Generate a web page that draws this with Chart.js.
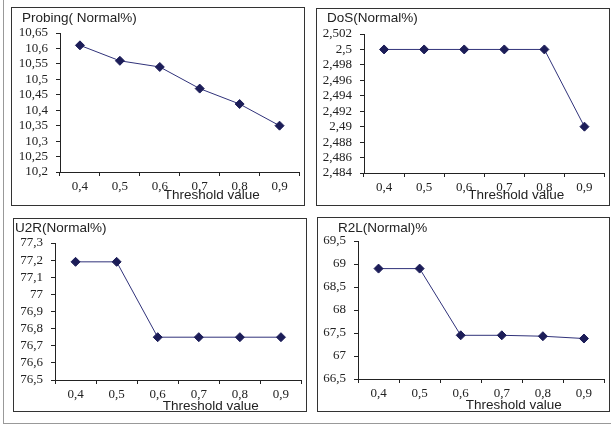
<!DOCTYPE html>
<html>
<head>
<meta charset="utf-8">
<script src="https://cdn.jsdelivr.net/npm/chart.js@4/dist/chart.umd.min.js"></script>
<style>
    body { margin: 0; background: #fff; }
    #page { position: relative; width: 611px; height: 425px; overflow: hidden; }
    .frame { position: absolute; left: 3px; top: -2px; width: 620px; height: 425px;
             border-left: 1px solid #999; border-bottom: 1px solid #999; }
    .box { position: absolute; border: 1px solid #333; box-sizing: border-box; }
    canvas { position: absolute; }
</style>
</head>
<body>
<div id="page">
    <div class="frame"></div>
</div>
<script>
// x categories (threshold values)
const thresholds = ['0,4', '0,5', '0,6', '0,7', '0,8', '0,9'];

// series values
const probingValues = [10.61, 10.56, 10.54, 10.47, 10.42, 10.35];
const dosValues = [2.5, 2.5, 2.5, 2.5, 2.5, 2.49];
const u2rValues = [77.19, 77.19, 76.75, 76.75, 76.75, 76.75];
const r2lValues = [68.9, 68.9, 67.45, 67.45, 67.43, 67.38];

// y tick ranges: [min, max, step]
const probingTicks = [10.2, 10.65, 0.05];
const dosTicks = [2.484, 2.502, 0.002];
const u2rTicks = [76.5, 77.3, 0.1];
const r2lTicks = [66.5, 69.5, 0.5];

const axisTitle = 'Threshold value';

// box = [x, y, w, h] of the panel frame, area = [left, top, right, bottom] of the plot (page coords)
const panels = [
    { title: 'Probing( Normal%)', values: probingValues, ticks: probingTicks,
      box: [11, 7, 294, 199], area: [60, 33, 302, 172], titlePos: [11, 11], axisDy: 23 },
    { title: 'DoS(Normal%)', values: dosValues, ticks: dosTicks,
      box: [316, 8, 294, 198], area: [364, 34, 607, 173], titlePos: [11, 10], axisDy: 22 },
    { title: 'U2R(Normal%)', values: u2rValues, ticks: u2rTicks,
      box: [13, 218, 294, 194], area: [55, 243, 305, 380], titlePos: [2, 10], axisDy: 26 },
    { title: 'R2L(Normal)%', values: r2lValues, ticks: r2lTicks,
      box: [317, 217, 293, 195], area: [358, 241, 607, 379], titlePos: [21, 11], axisDy: 26 }
];

const inkColor = '#222';
const lineColor = '#30327a';
const markerColor = '#1c1d58';

function fmt(v) {
    return parseFloat(Number(v).toFixed(4)).toString().replace('.', ',');
}

// draws the panel title and the offset x-axis title
const panelText = {
    id: 'panelText',
    afterDraw(chart, args, opts) {
        const ctx = chart.ctx;
        const x = chart.scales.x;
        ctx.save();
        ctx.fillStyle = inkColor;
        ctx.font = '13.5px "Liberation Sans", Arial, sans-serif';
        ctx.textBaseline = 'middle';
        ctx.textAlign = 'left';
        ctx.fillText(opts.title, opts.titlePos[0], opts.titlePos[1]);
        ctx.textAlign = 'center';
        ctx.fillText(axisTitle, x.getPixelForValue(3) + 12, chart.chartArea.bottom + opts.axisDy);
        ctx.restore();
    }
};

function makeChart(p) {
    const page = document.getElementById('page');
    const [bx, by, bw, bh] = p.box;
    const [al, at, ar, ab] = p.area;

    const box = document.createElement('div');
    box.className = 'box';
    Object.assign(box.style, { left: bx + 'px', top: by + 'px', width: bw + 'px', height: bh + 'px' });
    page.appendChild(box);

    const canvas = document.createElement('canvas');
    canvas.width = bw;
    canvas.height = bh;
    Object.assign(canvas.style, { left: bx + 'px', top: by + 'px', width: bw + 'px', height: bh + 'px' });
    page.appendChild(canvas);

    const tickFont = { family: '"Liberation Serif", "Times New Roman", serif', size: 13 };

    return new Chart(canvas, {
        type: 'line',
        data: {
            labels: thresholds,
            datasets: [{
                data: p.values,
                borderColor: lineColor,
                borderWidth: 1,
                tension: 0,
                pointStyle: 'rectRot',
                pointRadius: 4.5,
                pointBackgroundColor: markerColor,
                pointBorderColor: markerColor,
                pointBorderWidth: 1
            }]
        },
        options: {
            responsive: false,
            animation: false,
            devicePixelRatio: 1,
            layout: {
                padding: { left: 0, top: at - by, right: (bx + bw) - ar, bottom: 0 }
            },
            plugins: {
                legend: { display: false },
                tooltip: { enabled: false },
                panelText: { title: p.title, titlePos: p.titlePos, axisDy: p.axisDy }
            },
            scales: {
                x: {
                    type: 'category',
                    offset: true,
                    grid: { drawOnChartArea: false, offset: true, tickLength: 4, color: inkColor },
                    border: { color: inkColor },
                    ticks: { font: tickFont, color: inkColor, padding: 3, maxRotation: 0, autoSkip: false },
                    afterFit(scale) { scale.height = (by + bh) - ab; }
                },
                y: {
                    min: p.ticks[0],
                    max: p.ticks[1],
                    grid: { drawOnChartArea: false, tickLength: 4, color: inkColor },
                    border: { color: inkColor },
                    ticks: {
                        stepSize: p.ticks[2],
                        autoSkip: false,
                        font: tickFont,
                        color: inkColor,
                        padding: 8,
                        callback: v => fmt(v)
                    },
                    afterFit(scale) { scale.width = al - bx; }
                }
            }
        },
        plugins: [panelText]
    });
}

panels.forEach(makeChart);
</script>
</body>
</html>
